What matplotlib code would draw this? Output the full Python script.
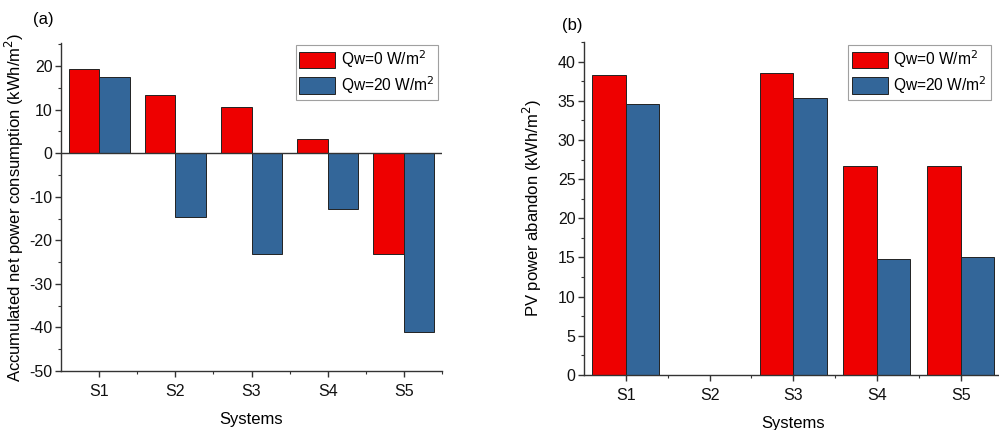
import matplotlib
matplotlib.use("Agg")
import matplotlib.pyplot as plt
import numpy as np
from matplotlib.ticker import MultipleLocator, FixedLocator

plt.rcParams['font.family'] = ['Liberation Sans', 'DejaVu Sans']
plt.rcParams['axes.unicode_minus'] = False

systems = ["S1", "S2", "S3", "S4", "S5"]
series_labels = ["Qw=0 W/m$^2$", "Qw=20 W/m$^2$"]
net_qw0 = [19.3, 13.3, 10.6, 3.3, -23.1]
net_qw20 = [17.4, -14.6, -23.1, -12.9, -41.1]
pv_qw0 = [38.3, 0.0, 38.5, 26.7, 26.7]
pv_qw20 = [34.6, 0.0, 35.4, 14.8, 15.1]

RED = '#EE0000'
BLUE = '#336699'

fig = plt.figure(figsize=(9.99, 4.30), dpi=100)
axL = fig.add_axes([0.0611, 0.1372, 0.3814, 0.7628])
axR = fig.add_axes([0.5846, 0.1279, 0.4189, 0.7744])

x = np.arange(1, len(systems) + 1)
w = 0.4

def style(ax):
    ax.spines['top'].set_visible(False)
    ax.spines['right'].set_visible(False)
    for s in ('left', 'bottom'):
        ax.spines[s].set_linewidth(1.0)
        ax.spines[s].set_color('#333333')
    ax.set_xticks(x)
    ax.set_xticklabels(systems)
    ax.xaxis.set_minor_locator(FixedLocator(x + 0.5))
    ax.tick_params(axis='both', which='major', direction='out', length=4.5, width=1.0,
                   color='#333333', labelcolor='#111111')
    ax.tick_params(axis='y', which='major', labelsize=11.5, pad=1.5)
    ax.tick_params(axis='x', which='major', labelsize=11.5, pad=4.5)
    ax.tick_params(axis='both', which='minor', direction='out', length=2.5, width=0.8,
                   color='#333333')
    ax.set_xlim(0.5, 5.5)

leg_kw = dict(fontsize=11.2, frameon=True, fancybox=False, edgecolor='#888888',
              handlelength=2.3, handleheight=1.25, labelspacing=0.25,
              handletextpad=0.35, borderpad=0.25, borderaxespad=0)

# Left panel
axL.bar(x - w/2, net_qw0, w, color=RED, edgecolor='#222222', linewidth=0.7,
        label=series_labels[0], zorder=2)
axL.bar(x + w/2, net_qw20, w, color=BLUE, edgecolor='#222222', linewidth=0.7,
        label=series_labels[1], zorder=2)
axL.axhline(0, color='#333333', linewidth=1.0, zorder=3)
style(axL)
axL.set_ylim(-50, 25.3)
axL.yaxis.set_major_locator(MultipleLocator(10))
axL.yaxis.set_minor_locator(MultipleLocator(5))
axL.set_ylabel('Accumulated net power consumption (kWh/m$^2$)', fontsize=12)
axL.yaxis.set_label_coords(-0.092, 0.5)
axL.set_xlabel('Systems', fontsize=12, labelpad=9.5)
legL = axL.legend(loc='upper right', bbox_to_anchor=(0.99, 0.995), **leg_kw)
legL.get_frame().set_linewidth(0.8)
fig.text(0.033, 0.955, '(a)', fontsize=12, ha='left', va='center')

# Right panel
axR.bar(x - w/2, pv_qw0, w, color=RED, edgecolor='#222222', linewidth=0.7,
        label=series_labels[0], zorder=2)
axR.bar(x + w/2, pv_qw20, w, color=BLUE, edgecolor='#222222', linewidth=0.7,
        label=series_labels[1], zorder=2)
style(axR)
axR.set_ylim(0, 42.5)
axR.yaxis.set_major_locator(MultipleLocator(5))
axR.yaxis.set_minor_locator(MultipleLocator(2.5))
axR.set_ylabel('PV power abandon (kWh/m$^2$)', fontsize=12)
axR.yaxis.set_label_coords(-0.0956, 0.5)
axR.set_xlabel('Systems', fontsize=12, labelpad=9.5)
legR = axR.legend(loc='upper left', bbox_to_anchor=(0.631, 0.992), **leg_kw)
legR.get_frame().set_linewidth(0.8)
fig.text(0.563, 0.94, '(b)', fontsize=12, ha='left', va='center')

fig.savefig('out.png', dpi=100)
